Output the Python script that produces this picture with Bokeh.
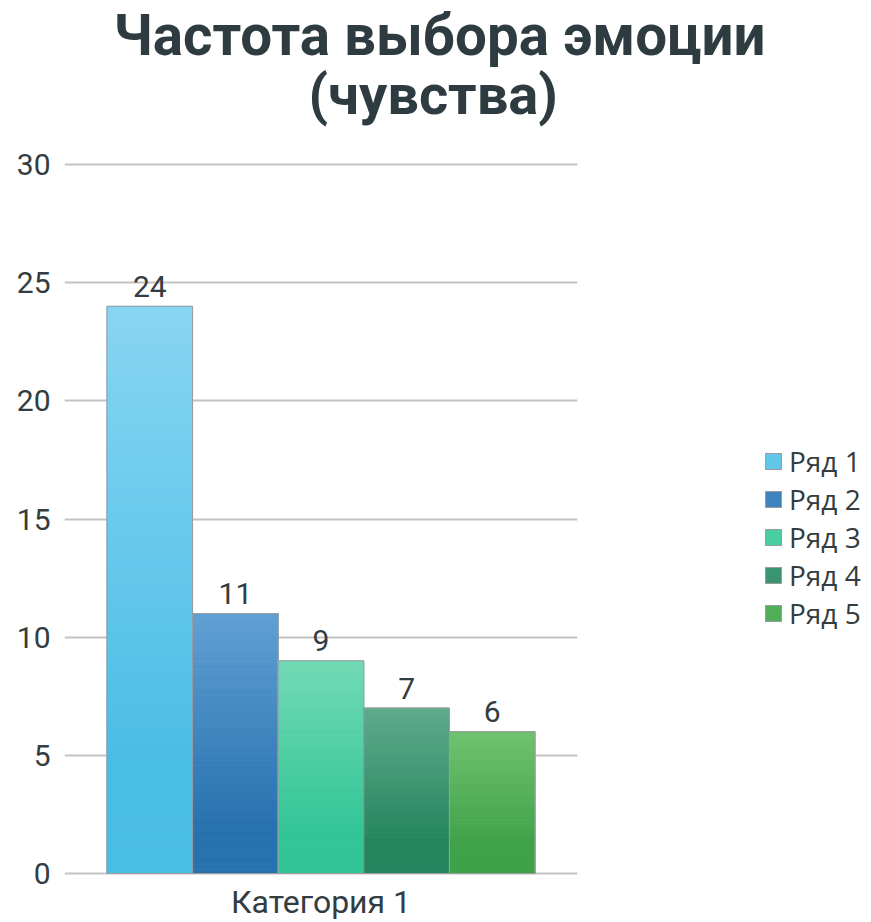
from bokeh.plotting import figure
from bokeh.models import ColumnDataSource, Legend, LegendItem, Title, FactorRange, Range1d
from bokeh.transform import dodge
from bokeh.core.properties import value
from bokeh.embed import file_html
from bokeh.resources import INLINE

# ---- data ----
title_line1 = "Частота выбора эмоции"
title_line2 = "(чувства)"
category = "Категория 1"
series_names = ["Ряд 1", "Ряд 2", "Ряд 3", "Ряд 4", "Ряд 5"]
series_values = [24, 11, 9, 7, 6]
y_ticks = [0, 5, 10, 15, 20, 25, 30]

# ---- style ----
top_colors = ["#88d5f2", "#609fd4", "#72dab5", "#5eab8c", "#70c26f"]
bottom_colors = ["#4abde5", "#2773b0", "#32c596", "#25855f", "#3ea249"]
FONT = "Roboto"
LEG_FONT = "Open Sans"
TEXT = "#333c40"
TITLE_COLOR = "#2e3c41"
BAR_W = 0.1669
N = 60
FLAT = 0.2  # lower part of each bar keeps the dark colour


def mix(c1, c2, t):
    a = [int(c1[i:i + 2], 16) for i in (1, 3, 5)]
    b = [int(c2[i:i + 2], 16) for i in (1, 3, 5)]
    return "#%02x%02x%02x" % tuple(round(a[j] + (b[j] - a[j]) * t) for j in range(3))


p = figure(x_range=FactorRange(factors=[category]), y_range=Range1d(-0.085, 30.085),
           frame_width=513, frame_height=713,
           output_backend="svg", toolbar_location=None, title_location=None)

items = []
for i, (name, v) in enumerate(zip(series_names, series_values)):
    off = (i - (len(series_values) - 1) / 2) * BAR_W
    ks = [(N // 2 + j) % N for j in range(N)]  # middle slice first (used by legend)
    src = ColumnDataSource(dict(
        x=[category] * N,
        bottom=[v * k / N for k in ks],
        top=[v * (k + 1) / N for k in ks],
        color=[mix(bottom_colors[i], top_colors[i],
                   max(0.0, ((k + 0.5) / N - FLAT) / (1 - FLAT))) for k in ks],
    ))
    r = p.vbar(x=dodge("x", off, range=p.x_range), bottom="bottom", top="top",
               width=BAR_W, fill_color="color", line_color="color", line_width=1,
               source=src)
    osrc = ColumnDataSource(dict(x=[category], top=[v], label=[str(v)]))
    o = p.vbar(x=dodge("x", off, range=p.x_range), bottom=0, top="top", width=BAR_W,
               fill_color=None, line_color="#9c9c9c", line_width=1, source=osrc)
    p.text(x=dodge("x", off, range=p.x_range), y="top", text="label", source=osrc,
           text_align="center", text_baseline="alphabetic", y_offset=-20,
           text_font_size="30px", text_font=value(FONT), text_color=TEXT)
    items.append(LegendItem(label=name, renderers=[r, o], index=0))

legend = Legend(items=items, location=(186, 243), border_line_color=None,
                background_fill_alpha=0, glyph_width=20, glyph_height=20,
                label_text_font_size="28px", label_text_font=LEG_FONT,
                label_text_color=TEXT, padding=0, margin=0, spacing=0,
                label_standoff=6)
p.add_layout(legend, "right")

# axes
p.yaxis.ticker = y_ticks
p.yaxis.axis_line_color = None
p.yaxis.major_tick_line_color = None
p.yaxis.minor_tick_line_color = None
p.yaxis.major_tick_out = 0
p.yaxis.major_tick_in = 0
p.yaxis.major_label_standoff = 14
p.yaxis.major_label_text_font_size = "30px"
p.yaxis.major_label_text_font = FONT
p.yaxis.major_label_text_color = TEXT
p.yaxis.axis_label = " "
p.yaxis.axis_label_standoff = 0
p.yaxis.axis_label_text_font_size = "8.5px"

p.xaxis.axis_line_color = None
p.xaxis.major_tick_line_color = None
p.xaxis.major_tick_out = 0
p.xaxis.major_tick_in = 0
p.xaxis.major_label_standoff = 7
p.xaxis.major_label_text_font_size = "32px"
p.xaxis.major_label_text_font = FONT
p.xaxis.major_label_text_color = TEXT

p.xgrid.grid_line_color = None
p.ygrid.grid_line_color = "#c3c3c3"
p.ygrid.grid_line_width = 2
p.outline_line_color = None

# two-line title (added closest-to-frame first)
spacer = Title(text=" ", text_font=FONT, text_font_size="36px", standoff=0)
t2 = Title(text=title_line2, align="left", offset=244, standoff=-18, text_font=FONT,
           text_font_size="56px", text_font_style="bold", text_color=TITLE_COLOR)
t1 = Title(text=title_line1, align="left", offset=49, standoff=0, text_font=FONT,
           text_font_size="56.5px", text_font_style="bold", text_color=TITLE_COLOR)
p.add_layout(spacer, "above")
p.add_layout(t2, "above")
p.add_layout(t1, "above")

open("out.html", "w").write(file_html(p, INLINE))
